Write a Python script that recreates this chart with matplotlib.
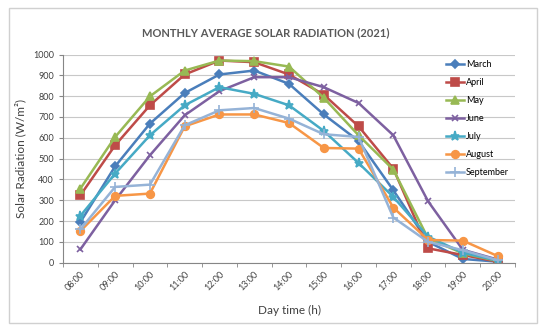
import matplotlib.pyplot as plt
import numpy as np

plt.rcParams['font.family'] = ['Lato', 'DejaVu Sans']

# Horas do dia (categorias do eixo x)
horas = ['08:00', '09:00', '10:00', '11:00', '12:00', '13:00', '14:00',
         '15:00', '16:00', '17:00', '18:00', '19:00', '20:00']

# Radiação média por mês (W/m²)
march = [195, 463, 668, 815, 904, 923, 859, 712, 585, 348, 100, 18, 5]
april = [324, 564, 756, 904, 971, 963, 904, 807, 655, 452, 69, 37, 5]
may = [356, 604, 799, 923, 971, 968, 942, 792, 612, 447, 117, 45, 8]
june = [64, 300, 516, 708, 824, 891, 891, 843, 767, 612, 295, 62, 15]
july = [225, 428, 612, 756, 843, 811, 756, 633, 479, 316, 125, 48, 10]
august = [152, 321, 332, 655, 712, 712, 671, 551, 548, 265, 109, 106, 32]
september = [160, 364, 375, 660, 732, 743, 692, 617, 604, 217, 100, 60, 12]

meses = ['March', 'April', 'May', 'June', 'July', 'August', 'September']
series = [march, april, may, june, july, august, september]
cores = ['#4A7EBB', '#BE4B48', '#98B954', '#7D60A0', '#46AAC5', '#F79646', '#95B3D7']
marcadores = ['D', 's', '^', 'x', '*', 'o', '+']
tamanhos = [4.5, 5.5, 5.5, 5, 6.5, 5.5, 6.5]

fig = plt.figure(figsize=(5.5, 3.33), dpi=100)
ax = fig.add_axes([63 / 550, 1 - 262.7 / 333, (515 - 63) / 550, (262.7 - 54.5) / 333])

# Moldura externa do gráfico
fig.patches.append(plt.Rectangle((9 / 550, 1 - 323 / 333), 528 / 550, 315 / 333,
                                 transform=fig.transFigure, fill=False,
                                 edgecolor='#d0d0d0', linewidth=1.0))

x = np.arange(len(horas))
for nome, valores, cor, m, ms in zip(meses, series, cores, marcadores, tamanhos):
    ax.plot(x, valores, color=cor, marker=m, markersize=ms, linewidth=1.8,
            markeredgewidth=1.2, label=nome)

ax.set_xlim(-0.5, len(horas) - 0.5)
ax.set_ylim(0, 1000)
ax.set_yticks(range(0, 1001, 100))
ax.set_xticks(x)
ax.set_xticklabels(horas, rotation=45, ha='right', rotation_mode='anchor')
ax.set_xticks(np.arange(-0.5, len(horas), 1), minor=True)
ax.tick_params(axis='x', which='major', length=0, labelsize=6.5, pad=5, labelcolor='#404040')
ax.tick_params(axis='x', which='minor', length=3, color='#868686')
ax.tick_params(axis='y', length=3, color='#868686', labelsize=6.5, labelcolor='#404040')

ax.grid(axis='y', color='#c8c8c8', linewidth=0.8)
ax.set_axisbelow(True)
for lado in ['top', 'right']:
    ax.spines[lado].set_visible(False)
ax.spines['left'].set_color('#868686')
ax.spines['bottom'].set_color('#868686')

ax.set_xlabel('Day time (h)', fontsize=8.5, color='#404040', labelpad=9)
ax.set_ylabel('Solar Radiation (W/m²)', fontsize=8.5, color='#404040', labelpad=5)
fig.text(0.483, 1 - 33 / 333, 'MONTHLY AVERAGE SOLAR RADIATION (2021)', ha='center',
         va='center', fontsize=8, fontweight='bold', color='#595959')

ax.legend(loc='upper left', bbox_to_anchor=(0.84, 0.99), frameon=False, fontsize=6.5,
          handlelength=2.0, labelspacing=1.0, handletextpad=0.2, borderaxespad=0)

fig.savefig('out.png', dpi=100)
